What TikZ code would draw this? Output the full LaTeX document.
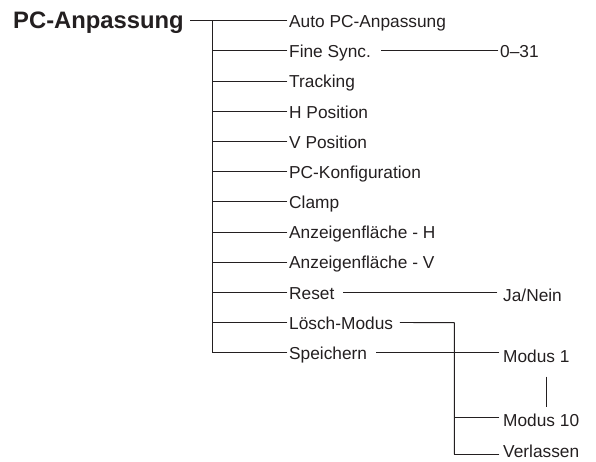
\documentclass[tikz,border=0pt]{standalone}
\usepackage{fontspec}
\setmainfont{Liberation Sans}
\definecolor{ink}{HTML}{231F20}
\begin{document}
\begin{tikzpicture}[x=1pt,y=-1pt,
  conn/.style={line width=0.9pt, line cap=rect, draw=ink},
  itemtext/.style={anchor=base west, inner sep=0pt, text=ink, font=\fontsize{17.3}{20}\selectfont},
  titletext/.style={anchor=base west, inner sep=0pt, text=ink, font=\fontsize{23.8}{27}\selectfont\bfseries}]
\useasboundingbox (0,0) rectangle (596,462);
% title
\node[titletext] (title) at (13,28.6) {PC-Anpassung};
\coordinate (tstart) at (190.7,20.7);
% trunk
\coordinate (trtop) at (212.3,20.7);
\coordinate (trbot) at (212.3,352.7);
\draw[conn] (trtop) -- (trbot);
% items
\foreach \i/\name/\txt in {0/auto/Auto PC-Anpassung,1/fine/Fine Sync.,2/track/Tracking,3/hpos/H Position,4/vpos/V Position,5/pccfg/PC-Konfiguration,6/clamp/Clamp,7/anzh/Anzeigenfläche - H,8/anzv/Anzeigenfläche - V,9/reset/Reset,10/loesch/Lösch-Modus,11/speich/Speichern}{
  \coordinate (r\name) at (212.3,20.7+30.18*\i);
  \node[itemtext] (\name) at (289,27.5+30.18*\i) {\txt};
  \draw[conn,shorten >=2pt] (r\name) -- (\name.west |- r\name);
}
\draw[conn] (tstart) -- (trtop);
% right column
\node[itemtext] (zero) at (500,57.6) {0–31};
\node[itemtext] (ja) at (503,301.3) {Ja/Nein};
\node[itemtext] (m1) at (503,362.5) {Modus 1};
\node[itemtext] (m10) at (503,426.3) {Modus 10};
\node[itemtext] (verl) at (503,457.8) {Verlassen};
% connectors
\draw[conn] ([xshift=10pt]fine.east |- rfine) -- ([xshift=-2pt]zero.west |- rfine);
\draw[conn] ([xshift=9pt]reset.east |- rreset) -- ([xshift=-6pt]ja.west |- rreset);
\coordinate (lv) at (454.3,322.7);
\coordinate (lm10) at (454.3,417.3);
\coordinate (lverl) at (454.3,454);
\draw[conn] ([xshift=7pt]loesch.east |- rloesch) -- (lv) -- (lverl);
\draw[conn] ([xshift=9pt]speich.east |- rspeich) -- ([xshift=-4pt]m1.west |- rspeich);
\draw[conn] (lm10) -- ([xshift=-4pt]m10.west |- lm10);
\draw[conn] (lverl) -- ([xshift=-4pt]verl.west |- lverl);
\coordinate (dtop) at (546,376.7);
\coordinate (dbot) at (546,406.7);
\draw[conn,line cap=butt] (dtop) -- (dbot);
\end{tikzpicture}
\end{document}
